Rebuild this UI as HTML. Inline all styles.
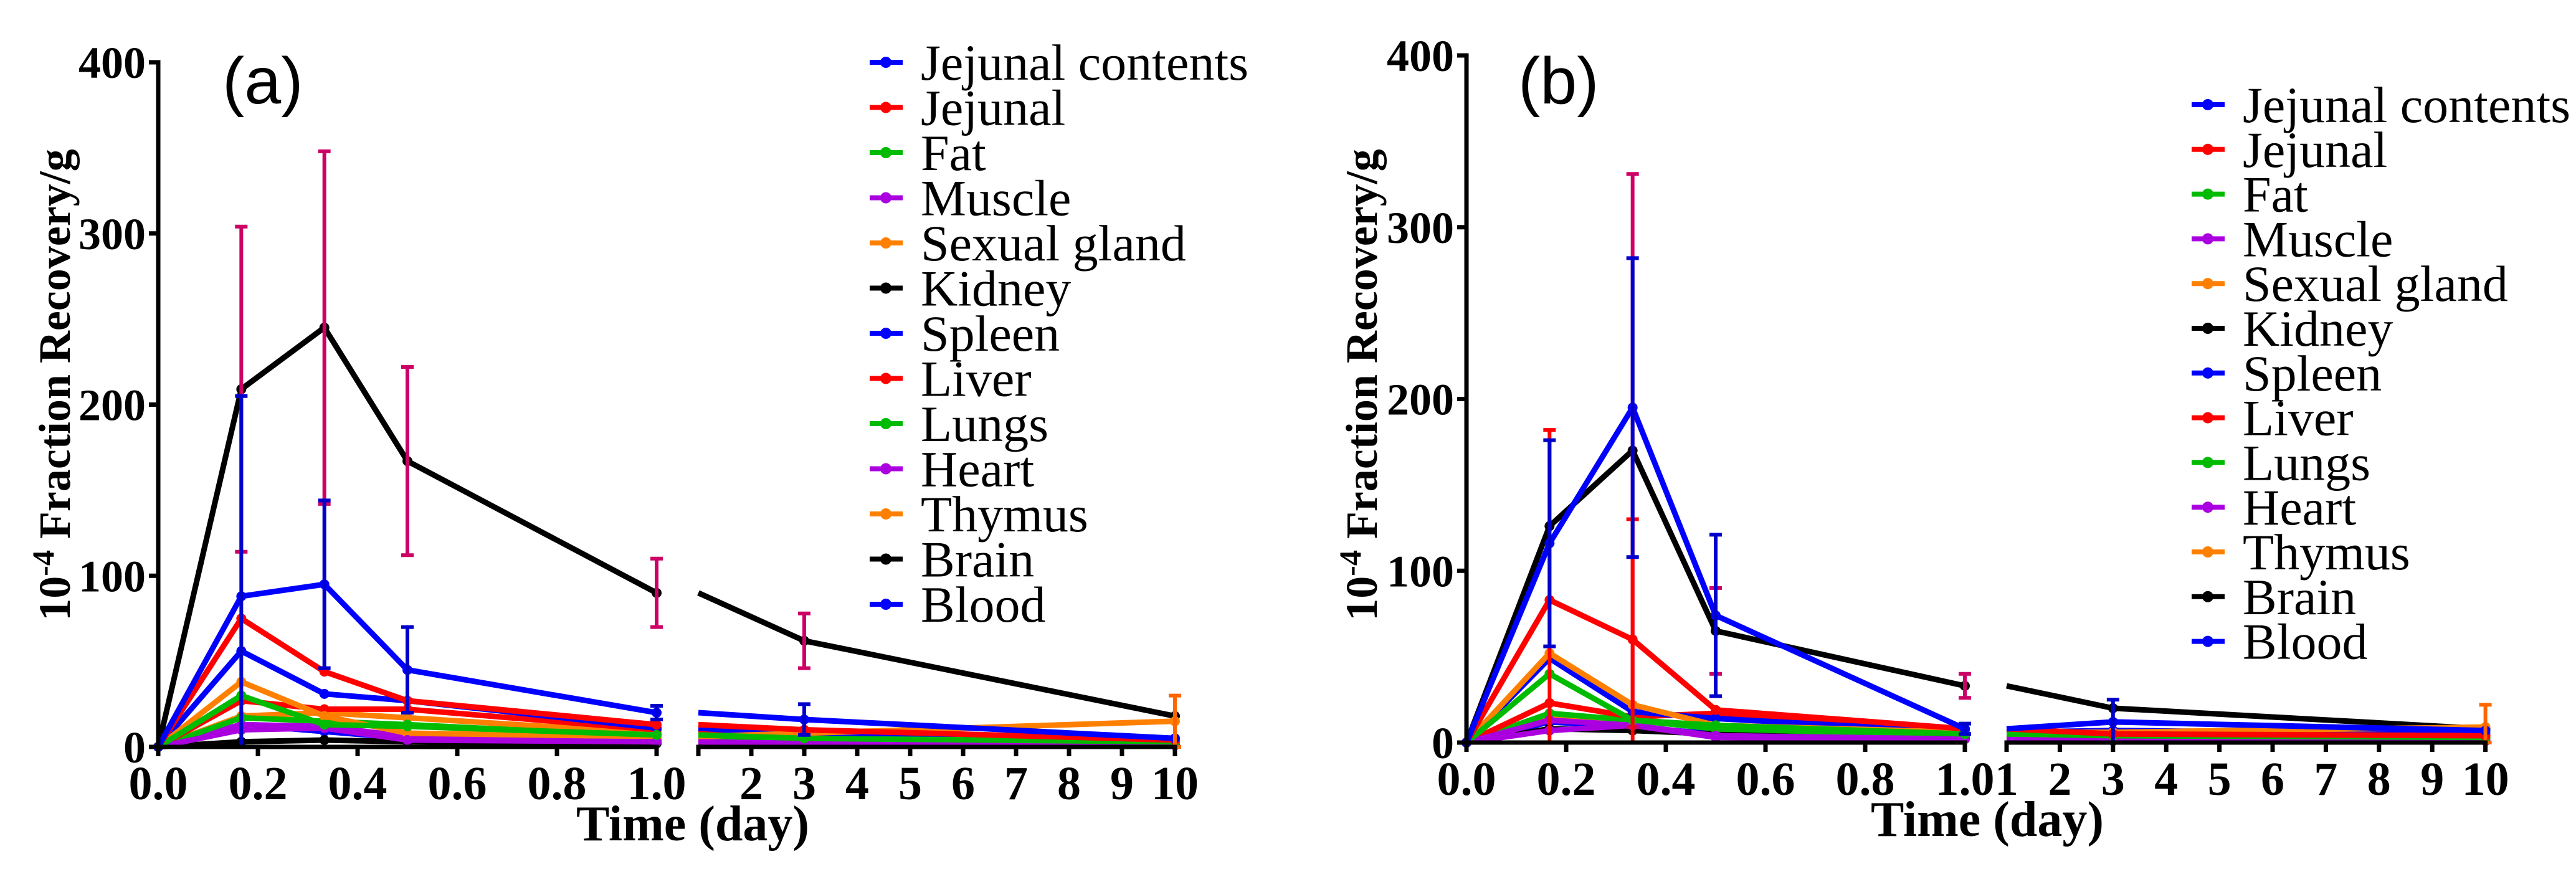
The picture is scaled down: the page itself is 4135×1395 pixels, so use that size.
<!DOCTYPE html>
<html><head><meta charset="utf-8"><style>
html,body{margin:0;padding:0;background:#fff;}
svg{display:block;}
.serif{font-family:"Liberation Serif","Times New Roman",serif;}
.sans{font-family:"Liberation Sans",Arial,sans-serif;}
</style></head><body>
<svg id="chart" width="4135" height="1395" viewBox="0 0 4135 1395" xmlns="http://www.w3.org/2000/svg"></svg>
<script>
// ---- shared data ----
const timesEarly = [0, 1/6, 1/3, 0.5, 1.0];
const timesLate = [1, 3, 10];
const seriesNames = ["Jejunal contents","Jejunal","Fat","Muscle","Sexual gland","Kidney","Spleen","Liver","Lungs","Heart","Thymus","Brain","Blood"];
const seriesColors = ["#0000ff","#ff0000","#00bb00","#aa00e0","#ff8000","#000000","#0000ff","#ff0000","#00bb00","#aa00e0","#ff8000","#000000","#0000ff"];
const yTicks = [0,100,200,300,400];
const xTicksEarly = [0,0.2,0.4,0.6,0.8,1.0];
const xTickLabelsEarly = ["0.0","0.2","0.4","0.6","0.8","1.0"];
const xTicksLate = [1,2,3,4,5,6,7,8,9,10];

// ---- panel (a) values: 0,4h,8h,12h,1d | 3d,10d ----
const aJejContents = [0,88,95,45,20,16,5];
const aJejunal     = [0,75,44,27,13,10,4];
const aFat         = [0,30,13,12,7,5,3];
const aMuscle      = [0,10,11,4,3,2,1];
const aSexGland    = [0,38,18,8,6,8,15];
const aKidney      = [0,209,245,167,90,62,18];
const aSpleen      = [0,56,31,27,11,7,5];
const aLiver       = [0,27,22,22,10,7,4];
const aLungs       = [0,17,15,13,6,4,2];
const aHeart       = [0,13,12,6,4,3,2];
const aThymus      = [0,18,20,17,8,6,4];
const aBrain       = [0,3,4,3,2,1,1];
const aBlood       = [0,13,9,5,4,3,2];
const aKidneyErr   = [0,95,103,55,20,16,0];
const aJejContErr  = [0,117,49,25,4,9,0];
const aSexGlandErr = [0,0,0,0,0,0,15];

// ---- panel (b) values ----
const bJejContents = [0,116,195,74,8,12,7];
const bJejunal     = [0,83,60,19,8,5,4];
const bFat         = [0,40,13,10,5,4,3];
const bMuscle      = [0,13,10,4,2,1,1];
const bSexGland    = [0,52,22,10,6,6,9];
const bKidney      = [0,126,170,65,33,20,8];
const bSpleen      = [0,49,18,14,6,7,5];
const bLiver       = [0,23,15,17,7,5,3];
const bLungs       = [0,17,13,8,4,3,2];
const bHeart       = [0,7,10,3,2,1,1];
const bThymus      = [0,15,14,8,5,4,3];
const bBrain       = [0,8,7,5,2,1,1];
const bBlood       = [0,12,9,5,3,2,2];
const bKidneyErr   = [0,0,161,25,7,0,0];
const bJejContErr  = [0,60,87,47,3,13,0];
const bJejunalErr  = [0,99,70,0,0,0,0];
const bSexGlandErr = [0,0,0,0,0,0,13];

const NS = "http://www.w3.org/2000/svg";
const svg = document.getElementById("chart");
function mk(tag, attrs, parent){
  const e = document.createElementNS(NS, tag);
  for (const k in attrs) e.setAttribute(k, attrs[k]);
  (parent||svg).appendChild(e);
  return e;
}

function drawPanel(p){
  const g = mk("g", {});
  
  
  const yS = v => p.y0 - (v/400)*(p.y0 - p.yTop);
  const xE = t => p.x0 + t*p.w1;
  const xL = d => p.d1 + (d-1)*p.perDay;

  for (let s = p.values.length-1; s >= 0; s--){
    const vals = p.values[s], col = seriesColors[s];
    const sg = mk("g", {}, g);
    
    
    const early = timesEarly.map((t,i)=>[xE(t), yS(vals[i])]);
    const late = timesLate.map((d,i)=>[xL(d), yS(vals[i+4])]);
    const l1 = mk("polyline", {points: early.map(q=>q.join(",")).join(" "), fill:"none", stroke:col, "stroke-width":9, "stroke-linejoin":"round"}, sg);
    
    
    const l2 = mk("polyline", {points: late.map(q=>q.join(",")).join(" "), fill:"none", stroke:col, "stroke-width":9, "stroke-linejoin":"round"}, sg);
    
    
    early.concat(late.slice(1)).forEach(q=>{
      const c = mk("circle", {cx:q[0], cy:q[1], r:8, fill:col}, sg);
      
      
    });
  }
  p.errs.forEach(e=>{
    const vals = p.values[e.s];
    e.err.forEach((er,i)=>{
      if (!er) return;
      const x = i<5 ? xE(timesEarly[i]) : xL(timesLate[i-4]);
      const v = vals[i];
      const y1 = yS(v+er), y2 = yS(Math.max(0, v-er));
      const b = mk("path", {d:`M${x},${y1}V${y2}M${x-10},${y1}H${x+10}M${x-10},${y2}H${x+10}`, stroke:e.col, "stroke-width":6, fill:"none"}, g);
      
      
    });
  });

  const ax = mk("path", {d:`M${p.x0},${p.yTop}V${p.y0}H${xE(1)}M${xL(1)},${p.y0}H${xL(10)}`, stroke:"#000","stroke-width":7, fill:"none","stroke-linecap":"square"}, g);
  
  
  yTicks.forEach(v=>{
    const y = yS(v);
    const t = mk("line", {x1:p.x0-15, x2:p.x0, y1:y, y2:y, stroke:"#000","stroke-width":7}, g);
    
    
    const tx = mk("text", {x:p.x0-20, y:y+25, "text-anchor":"end", "class":"serif", "font-weight":"bold", "font-size":72}, g);
    tx.textContent = v;
    
    
  });
  xTicksEarly.forEach((t,i)=>{
    const x = xE(t);
    const tk = mk("line", {x1:x, x2:x, y1:p.y0, y2:p.y0+15, stroke:"#000","stroke-width":7}, g);
    
    
    const tx = mk("text", {x:x, y:p.y0+84, "text-anchor":"middle", "class":"serif", "font-weight":"bold", "font-size":76}, g);
    tx.textContent = xTickLabelsEarly[i];
    
    
  });
  xTicksLate.forEach(d=>{
    const x = xL(d);
    const tk = mk("line", {x1:x, x2:x, y1:p.y0, y2:p.y0+15, stroke:"#000","stroke-width":7}, g);
    
    
    if (d===1 && !p.showOne) return;
    const tx = mk("text", {x:x, y:p.y0+84, "text-anchor":"middle", "class":"serif", "font-weight":"bold", "font-size":76}, g);
    tx.textContent = d;
    
    
  });
  const xt = mk("text", {x:p.xTitleX, y:p.y0+150, "text-anchor":"middle", "class":"serif", "font-weight":"bold", "font-size":80}, g);
  xt.textContent = "Time (day)";
  
  
  const yt = mk("text", {x:0, y:0, "text-anchor":"middle", "class":"serif", "font-weight":"bold", "font-size":72, transform:`translate(${p.yTitleX},618) rotate(-90)`}, g);
  yt.innerHTML = '10<tspan dy="-26" font-size="50">-4</tspan><tspan dy="26"> Fraction Recovery/g</tspan>';
  
  
  const pl = mk("text", {x:p.letterX, y:166, "class":"sans", "font-size":106}, g);
  pl.textContent = p.letter;
  
  
  const lg = mk("g", {}, g);
  
  
  seriesNames.forEach((n,i)=>{
    const y = p.legY + i*p.legStep;
    const e = mk("g", {}, lg);
    
    
    mk("line", {x1:p.legX, x2:p.legX+53, y1:y, y2:y, stroke:seriesColors[i], "stroke-width":8}, e);
    mk("circle", {cx:p.legX+26, cy:y, r:9, fill:seriesColors[i]}, e);
    const t = mk("text", {x:p.legX+82, y:y+28, "class":"serif", "font-size":82}, e);
    t.textContent = n;
  });
}

drawPanel({id:"a", letter:"(a)", letterX:357, x0:254, w1:800, d1:1121, perDay:85, y0:1199, yTop:100,
  xTitleX:1112, yTitleX:112, legX:1396, legY:100, legStep:72.5, showOne:false,
  values:[aJejContents,aJejunal,aFat,aMuscle,aSexGland,aKidney,aSpleen,aLiver,aLungs,aHeart,aThymus,aBrain,aBlood],
  errs:[{s:5,err:aKidneyErr,col:"#cc0066"},{s:0,err:aJejContErr,col:"#0000cc"},{s:4,err:aSexGlandErr,col:"#ff6600"}]});
drawPanel({id:"b", letter:"(b)", letterX:2437, x0:2354, w1:800, d1:3221, perDay:85.4, y0:1192, yTop:89,
  xTitleX:3190, yTitleX:2210, legX:3518, legY:168, legStep:71.8, showOne:true,
  values:[bJejContents,bJejunal,bFat,bMuscle,bSexGland,bKidney,bSpleen,bLiver,bLungs,bHeart,bThymus,bBrain,bBlood],
  errs:[{s:5,err:bKidneyErr,col:"#cc0066"},{s:1,err:bJejunalErr,col:"#ff0000"},{s:0,err:bJejContErr,col:"#0000cc"},{s:4,err:bSexGlandErr,col:"#ff6600"}]});
</script>
</body></html>
